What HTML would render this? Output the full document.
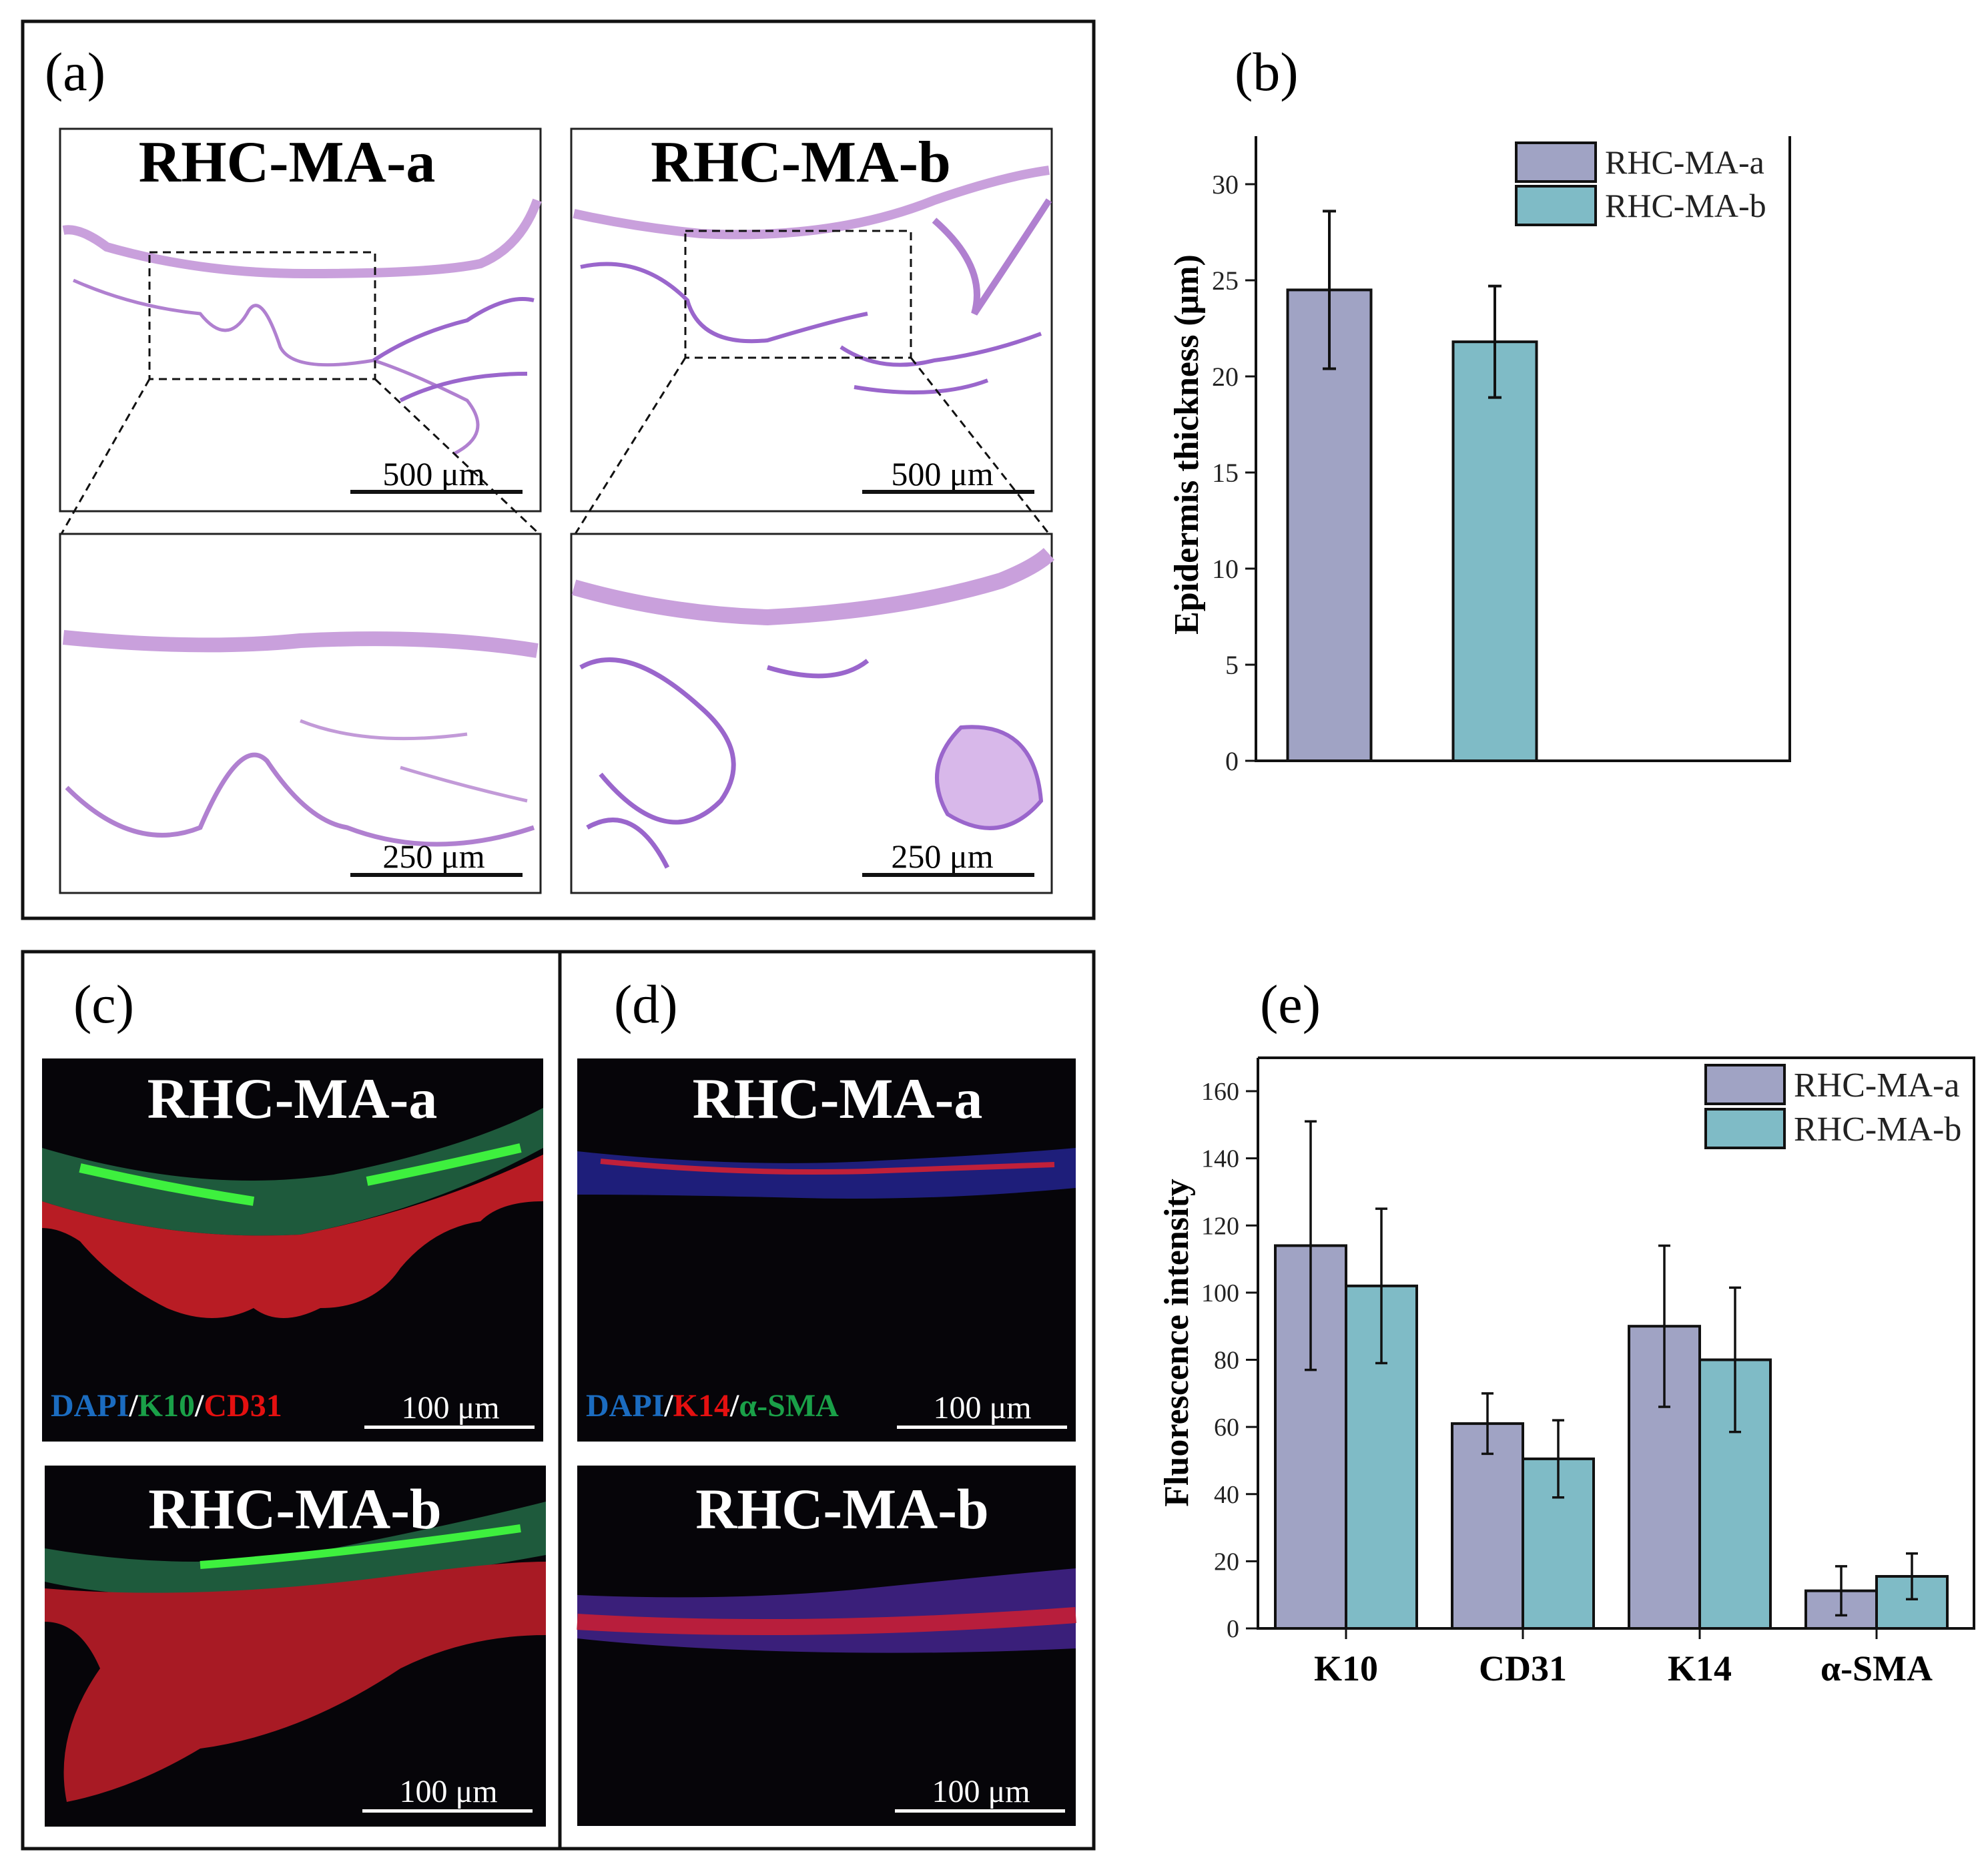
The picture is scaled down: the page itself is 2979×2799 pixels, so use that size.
<!DOCTYPE html>
<html><head><meta charset="utf-8"><style>
html,body{margin:0;padding:0;background:#fff}
svg{display:block;font-family:"Liberation Serif",serif}
</style></head><body>
<svg id="fig" width="2979" height="2799" viewBox="0 0 2979 2799" xmlns="http://www.w3.org/2000/svg">
<!-- Panel a -->
<rect x="34" y="32" width="1605" height="1344" fill="none" stroke="#111" stroke-width="5"/>
<text x="67" y="135" font-size="82">(a)</text>
<g>
<rect x="90" y="193" width="720" height="573" fill="#fff" stroke="#222" stroke-width="3"/>
<path d="M95 345 Q120 340 160 370 Q300 410 460 410 Q650 410 720 395 Q780 370 805 300" fill="none" stroke="#c9a0dc" stroke-width="14"/>
<path d="M110 420 Q200 460 300 470 Q340 520 370 470 Q390 430 420 520 Q440 560 560 540 Q620 560 700 600 Q740 650 680 680" fill="none" stroke="#b080d0" stroke-width="5"/>
<path d="M560 540 Q620 500 700 480 Q760 440 800 450 M600 600 Q680 560 790 560" fill="none" stroke="#9a66cc" stroke-width="6"/>
<rect x="224" y="378" width="338" height="190" fill="none" stroke="#111" stroke-width="3" stroke-dasharray="12,8"/>
<text x="430" y="272" font-size="88" font-weight="bold" text-anchor="middle">RHC-MA-a</text>
<text x="650" y="727" font-size="50" text-anchor="middle">500 μm</text>
<rect x="525" y="734" width="258" height="6" fill="#111"/>
</g>
<g>
<rect x="856" y="193" width="720" height="573" fill="#fff" stroke="#222" stroke-width="3"/>
<path d="M860 320 Q950 340 1050 350 Q1250 360 1400 300 Q1500 265 1572 255" fill="none" stroke="#c9a0dc" stroke-width="14"/>
<path d="M870 400 Q960 380 1030 450 Q1050 520 1150 510 Q1250 480 1300 470 M1260 520 Q1320 560 1400 540 Q1480 530 1560 500 M1280 580 Q1400 600 1480 570" fill="none" stroke="#9a66cc" stroke-width="6"/>
<path d="M1400 330 Q1480 400 1460 470 Q1520 380 1572 300" fill="none" stroke="#b080d0" stroke-width="10"/>
<rect x="1027" y="346" width="338" height="190" fill="none" stroke="#111" stroke-width="3" stroke-dasharray="12,8"/>
<text x="1200" y="272" font-size="88" font-weight="bold" text-anchor="middle">RHC-MA-b</text>
<text x="1412" y="727" font-size="50" text-anchor="middle">500 μm</text>
<rect x="1292" y="734" width="258" height="6" fill="#111"/>
</g>
<path d="M224 568 L92 800 M562 568 L808 800 M1027 536 L862 800 M1365 536 L1572 800" stroke="#111" stroke-width="3" stroke-dasharray="12,8"/>
<g>
<rect x="90" y="800" width="720" height="538" fill="#fff" stroke="#222" stroke-width="3"/>
<path d="M95 955 Q300 975 450 960 Q650 950 805 975" fill="none" stroke="#c9a0dc" stroke-width="22"/>
<path d="M100 1180 Q200 1280 300 1240 Q360 1100 400 1140 Q460 1230 520 1240 Q650 1290 800 1240" fill="none" stroke="#b080d0" stroke-width="7"/>
<path d="M450 1080 Q550 1120 700 1100 M600 1150 Q700 1180 790 1200" fill="none" stroke="#c29ad8" stroke-width="5"/>
<text x="650" y="1300" font-size="50" text-anchor="middle">250 μm</text>
<rect x="525" y="1308" width="258" height="6" fill="#111"/>
</g>
<g>
<rect x="856" y="800" width="720" height="538" fill="#fff" stroke="#222" stroke-width="3"/>
<path d="M860 880 Q1000 920 1150 925 Q1350 915 1500 870 Q1550 850 1572 830" fill="none" stroke="#c9a0dc" stroke-width="24"/>
<path d="M870 1000 Q940 960 1050 1060 Q1130 1130 1080 1200 Q1000 1280 900 1160 M1150 1000 Q1250 1030 1300 990 M880 1240 Q950 1200 1000 1300" fill="none" stroke="#9a66cc" stroke-width="7"/>
<path d="M1440 1090 Q1550 1080 1560 1200 Q1500 1270 1420 1220 Q1380 1150 1440 1090Z" fill="#d8b8ea" stroke="#9a66cc" stroke-width="6"/>
<text x="1412" y="1300" font-size="50" text-anchor="middle">250 μm</text>
<rect x="1292" y="1308" width="258" height="6" fill="#111"/>
</g>

<!-- Panels c,d -->
<rect x="34" y="1426" width="1605" height="1344" fill="none" stroke="#111" stroke-width="5"/>
<line x1="839" y1="1426" x2="839" y2="2770" stroke="#111" stroke-width="5"/>
<text x="110" y="1532" font-size="82">(c)</text>
<text x="920" y="1532" font-size="82">(d)</text>
<g>
<rect x="63" y="1586" width="751" height="574" fill="#060509"/>
<path d="M63 1720 Q300 1790 500 1760 Q700 1720 814 1660 L814 1720 Q650 1810 450 1850 Q250 1860 63 1800Z" fill="#1e5a3c"/>
<path d="M120 1750 Q250 1780 380 1800 M550 1770 Q650 1750 780 1720" stroke="#3ef03e" stroke-width="14" fill="none"/>
<path d="M63 1800 Q250 1860 450 1850 Q650 1810 814 1730 L814 1800 Q750 1800 720 1830 Q650 1840 600 1900 Q560 1960 480 1960 Q420 1990 380 1960 Q320 1990 250 1960 Q170 1920 120 1860 Q90 1840 63 1840Z" fill="#b81c24"/>
<text x="438" y="1675" font-size="86" font-weight="bold" fill="#fff" text-anchor="middle">RHC-MA-a</text>
<text x="76" y="2122" font-size="48" font-weight="bold"><tspan fill="#1b6cc0">DAPI</tspan><tspan fill="#fff">/</tspan><tspan fill="#1aa048">K10</tspan><tspan fill="#fff">/</tspan><tspan fill="#e41010">CD31</tspan></text>
<text x="675" y="2125" font-size="48" fill="#fff" text-anchor="middle">100 μm</text>
<rect x="546" y="2136" width="255" height="5" fill="#fff"/>
</g>
<g>
<rect x="67" y="2196" width="751" height="541" fill="#060509"/>
<path d="M67 2320 Q300 2360 500 2320 Q700 2280 818 2250 L818 2330 Q600 2370 400 2390 Q200 2400 67 2370Z" fill="#1e5a3c"/>
<path d="M300 2345 Q500 2330 780 2290" stroke="#3ef03e" stroke-width="12" fill="none"/>
<path d="M67 2380 Q300 2400 600 2360 Q750 2340 818 2340 L818 2450 Q700 2450 600 2500 Q450 2600 300 2620 Q200 2680 100 2700 Q80 2600 150 2500 Q120 2430 67 2430Z" fill="#a81a24"/>
<text x="442" y="2290" font-size="86" font-weight="bold" fill="#fff" text-anchor="middle">RHC-MA-b</text>
<text x="672" y="2700" font-size="48" fill="#fff" text-anchor="middle">100 μm</text>
<rect x="543" y="2711" width="255" height="5" fill="#fff"/>
</g>
<g>
<rect x="865" y="1586" width="747" height="574" fill="#060509"/>
<path d="M865 1725 Q1100 1750 1300 1740 Q1500 1730 1612 1720 L1612 1780 Q1400 1800 1200 1795 Q1000 1790 865 1790Z" fill="#1e1e7a"/>
<path d="M900 1740 Q1100 1760 1300 1755 Q1450 1750 1580 1745" stroke="#c0203a" stroke-width="8" fill="none"/>
<text x="1255" y="1675" font-size="86" font-weight="bold" fill="#fff" text-anchor="middle">RHC-MA-a</text>
<text x="878" y="2122" font-size="48" font-weight="bold"><tspan fill="#1b6cc0">DAPI</tspan><tspan fill="#fff">/</tspan><tspan fill="#e41010">K14</tspan><tspan fill="#fff">/</tspan><tspan fill="#1aa048">α-SMA</tspan></text>
<text x="1472" y="2125" font-size="48" fill="#fff" text-anchor="middle">100 μm</text>
<rect x="1344" y="2136" width="255" height="5" fill="#fff"/>
</g>
<g>
<rect x="865" y="2196" width="747" height="540" fill="#060509"/>
<path d="M865 2390 Q1100 2400 1300 2380 Q1500 2360 1612 2350 L1612 2470 Q1400 2480 1200 2475 Q1000 2470 865 2455Z" fill="#3a1f7a"/>
<path d="M865 2430 Q1200 2450 1612 2420" stroke="#b81e3c" stroke-width="24" fill="none"/>
<text x="1262" y="2290" font-size="86" font-weight="bold" fill="#fff" text-anchor="middle">RHC-MA-b</text>
<text x="1470" y="2700" font-size="48" fill="#fff" text-anchor="middle">100 μm</text>
<rect x="1341" y="2711" width="255" height="5" fill="#fff"/>
</g>

<text x="1850" y="135" font-size="82">(b)</text>
<text x="1888" y="1532" font-size="82">(e)</text>
<g id="chartB"></g>
<g id="chartE"></g>
</svg>
<script>
const bGroups = ['RHC-MA-a', 'RHC-MA-b'];
const bValues = [24.5, 21.8];
const bErrors = [4.1, 2.9];
const bTicks = [0, 5, 10, 15, 20, 25, 30];

const eCategories = ['K10', 'CD31', 'K14', 'α-SMA'];
const eSeriesA = [114, 61, 90, 11.2];
const eSeriesB = [102, 50.5, 80, 15.5];
const eErrA = [37, 9, 24, 7.3];
const eErrB = [23, 11.5, 21.5, 6.8];
const eTicks = [0, 20, 40, 60, 80, 100, 120, 140, 160];
const eSeriesNames = ['RHC-MA-a', 'RHC-MA-b'];

const NS = 'http://www.w3.org/2000/svg';
const COLORS = ['#a0a3c4', '#7fbbc6'];
function mk(parent, tag, attrs, text) {
  const el = document.createElementNS(NS, tag);
  for (const k in attrs) el.setAttribute(k, attrs[k]);
  if (text !== undefined) el.textContent = text;
  parent.appendChild(el);
  return el;
}
function errBar(g, x, y1, y2, cap, sw) {
  const e = mk(g, 'path', {d: `M${x} ${y1}V${y2}M${x-cap} ${y1}H${x+cap}M${x-cap} ${y2}H${x+cap}`, stroke: '#111', 'stroke-width': sw, fill: 'none'});
  
  
}

// Chart b
(function(){
  const g = document.getElementById('chartB');
  const L = 1882, R = 2682, T = 204, B = 1140;
  const y = v => B - v * (B - 276) / 30;
  const xc = i => 1992 + i * 248;
  const bw = 125;
  bValues.forEach((v, i) => {
    const r = mk(g, 'rect', {x: xc(i) - bw/2, y: y(v), width: bw, height: B - y(v), fill: COLORS[i], stroke: '#111', 'stroke-width': 4});
    
    
    errBar(g, xc(i), y(v + bErrors[i]), y(v - bErrors[i]), 10, 4);
  });
  const ax = mk(g, 'path', {d: `M${L} ${T}V${B}H${R}V${T}`, stroke: '#111', 'stroke-width': 4, fill: 'none'});
  
  
  bTicks.forEach(t => {
    mk(g, 'line', {x1: L - 16, x2: L, y1: y(t), y2: y(t), stroke: '#111', 'stroke-width': 3});
    const tl = mk(g, 'text', {x: L - 26, y: y(t) + 14, 'font-size': 40, 'text-anchor': 'end', fill: '#222'}, t);
    
    
  });
  const yt = mk(g, 'text', {x: 0, y: 0, 'font-size': 52, 'font-weight': 'bold', 'text-anchor': 'middle', transform: `translate(1795 666) rotate(-90)`}, 'Epidermis thickness (μm)');
  
  
  bGroups.forEach((n, i) => {
    const lr = mk(g, 'rect', {x: 2272, y: 214 + i * 65, width: 119, height: 58, fill: COLORS[i], stroke: '#111', 'stroke-width': 4});
    
    
    const lt = mk(g, 'text', {x: 2405, y: 260 + i * 65, 'font-size': 50, fill: '#222'}, n);
    
    
  });
})();

// Chart e
(function(){
  const g = document.getElementById('chartE');
  const L = 1885, R = 2958, T = 1585, B = 2440;
  const y = v => B - v * (B - 1635) / 160;
  const xc = i => 2017 + i * 265;
  const bw = 106;
  eCategories.forEach((c, i) => {
    [eSeriesA, eSeriesB].forEach((s, k) => {
      const v = s[i];
      const x0 = xc(i) - bw + k * bw;
      const r = mk(g, 'rect', {x: x0, y: y(v), width: bw, height: B - y(v), fill: COLORS[k], stroke: '#111', 'stroke-width': 4});
      
      
      const er = k ? eErrB[i] : eErrA[i];
      errBar(g, x0 + bw/2, y(v + er), y(v - er), 9, 3.5);
    });
    mk(g, 'line', {x1: xc(i), x2: xc(i), y1: B, y2: B + 16, stroke: '#111', 'stroke-width': 3});
    const cl = mk(g, 'text', {x: xc(i), y: B + 78, 'font-size': 54, 'font-weight': 'bold', 'text-anchor': 'middle'}, c);
    
    
  });
  const ax = mk(g, 'path', {d: `M${L} ${T}V${B}H${R}V${T}H${L}`, stroke: '#111', 'stroke-width': 4, fill: 'none'});
  
  
  eTicks.forEach(t => {
    mk(g, 'line', {x1: L - 18, x2: L, y1: y(t), y2: y(t), stroke: '#111', 'stroke-width': 3});
    const tl = mk(g, 'text', {x: L - 28, y: y(t) + 13, 'font-size': 38, 'text-anchor': 'end', fill: '#222'}, t);
    
    
  });
  const yt = mk(g, 'text', {x: 0, y: 0, 'font-size': 52, 'font-weight': 'bold', 'text-anchor': 'middle', transform: `translate(1780 2012) rotate(-90)`}, 'Fluorescence intensity');
  
  
  eSeriesNames.forEach((n, i) => {
    const lr = mk(g, 'rect', {x: 2556, y: 1596 + i * 66, width: 118, height: 58, fill: COLORS[i], stroke: '#111', 'stroke-width': 4});
    
    
    const lt = mk(g, 'text', {x: 2688, y: 1643 + i * 66, 'font-size': 52, fill: '#222'}, n);
    
    
  });
})();
</script>
</body></html>
